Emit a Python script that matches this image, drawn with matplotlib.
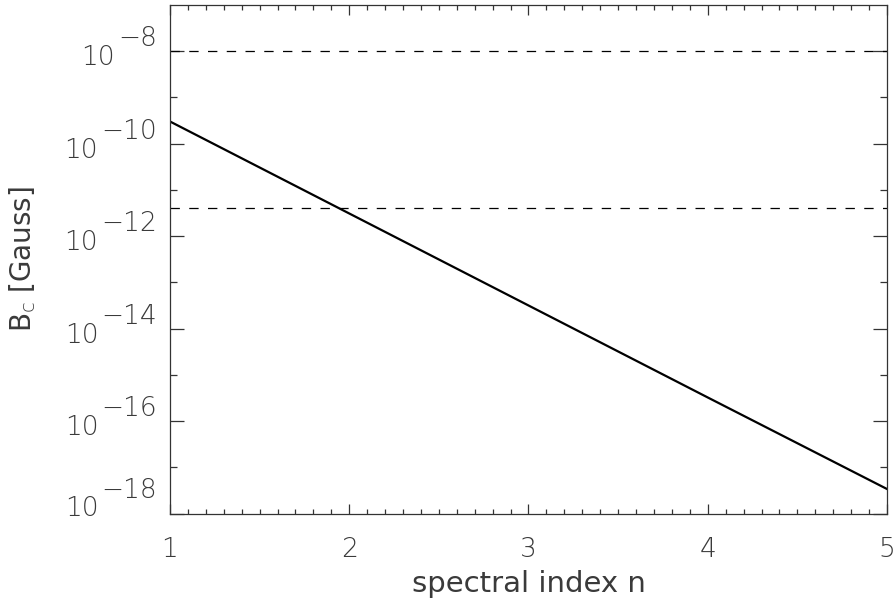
import matplotlib
matplotlib.use("Agg")
import matplotlib.pyplot as plt
import matplotlib.transforms as mtransforms
from matplotlib.ticker import FixedLocator, MultipleLocator, NullFormatter
import numpy as np

# data
n_vals = [1.0, 2.0, 3.0, 4.0, 5.0]
logB_vals = [-9.52, -11.51, -13.50, -15.49, -17.47]
hlines_B = [1e-8, 4.1e-12]
ymajor_exp = [-18, -16, -14, -12, -10, -8]
yminor_exp = [-17, -15, -13, -11, -9]
xticks = [1, 2, 3, 4, 5]

FONT = ["DejaVu Sans"]
plt.rcParams['font.family'] = FONT
plt.rcParams['font.weight'] = 'light'
plt.rcParams['mathtext.fontset'] = 'dejavusans'

TXT = '#3a3a3a'
FS = 19

fig = plt.figure(figsize=(8.95, 5.98), dpi=100)
ax = fig.add_axes([170/895, 1-513.5/598, (887-170)/895, (513.5-5)/598])

B = [10**v for v in logB_vals]
ax.plot(n_vals, B, color='black', lw=1.6)
for h in hlines_B:
    ax.axhline(h, color='black', lw=0.9, dashes=(7.5, 7.5))

ax.set_yscale('log')
ax.set_xlim(1, 5)
ax.set_ylim(1e-18, 1e-7)

ax.xaxis.set_major_locator(FixedLocator(xticks))
ax.xaxis.set_minor_locator(MultipleLocator(0.1))
ax.yaxis.set_major_locator(FixedLocator([10.0**e for e in ymajor_exp]))
ax.yaxis.set_minor_locator(FixedLocator([10.0**e for e in yminor_exp]))
ax.yaxis.set_major_formatter(NullFormatter())
ax.yaxis.set_minor_formatter(NullFormatter())
ax.set_xticklabels([str(t) for t in xticks])

ax.tick_params(axis='both', which='both', direction='in', top=True, right=True,
               color='#333333', width=0.9)
ax.tick_params(axis='x', which='major', length=7.5, labelsize=FS, pad=17,
               labelcolor=TXT)
ax.tick_params(axis='x', which='minor', length=3.8)
ax.tick_params(axis='y', which='major', length=10)
ax.tick_params(axis='y', which='minor', length=5)
for s in ax.spines.values():
    s.set_color('#333333')
    s.set_linewidth(0.9)

trans = mtransforms.blended_transform_factory(ax.transAxes, ax.transData)
for i, e in enumerate(ymajor_exp):
    dy = 5 if i > 0 else 16
    ex = ax.annotate("\u2212" + str(-e), xy=(0, 10.0**e), xycoords=trans,
                     xytext=(-13, dy), textcoords='offset pixels',
                     ha='right', va='baseline', fontsize=FS, color=TXT)
    ax.annotate("10", xy=(0, 0), xycoords=ex, xytext=(-3, -14),
                textcoords='offset pixels', ha='right', va='baseline',
                fontsize=FS, color=TXT)

ax.set_xlabel("spectral index n", fontsize=21, color=TXT, labelpad=6)
ax.set_ylabel(r"B$_\mathrm{c}$ [Gauss]", fontsize=20, color=TXT)
ax.yaxis.set_label_coords(-0.184, 0.5)

fig.savefig("out.png", dpi=100)
